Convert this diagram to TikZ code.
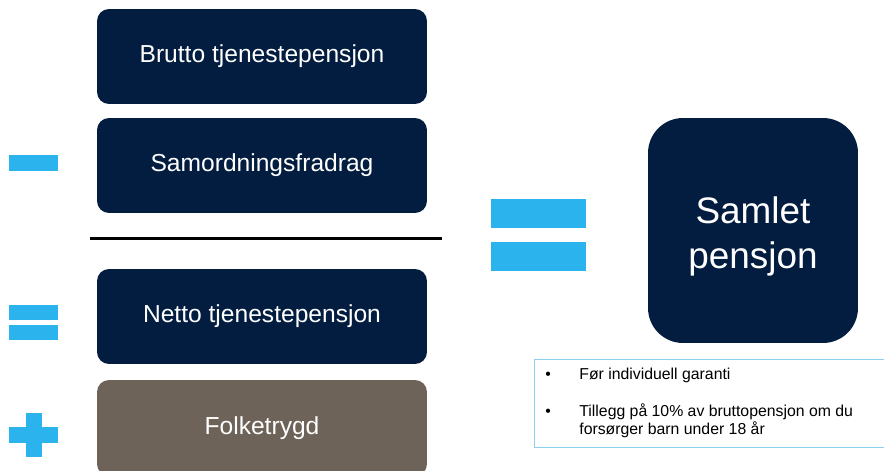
\documentclass[tikz,border=0pt]{standalone}
\usepackage{fontspec}
\setmainfont{Liberation Sans}
\usepackage{array}
\usepackage{xcolor}
\usetikzlibrary{positioning,calc}

\definecolor{navy}{HTML}{021D3F}
\definecolor{taupe}{HTML}{6E6359}
\definecolor{signblue}{HTML}{2BB3EE}
\definecolor{noteblue}{HTML}{8DD0F0}

\begin{document}
\begin{tikzpicture}[
    x=0.02cm, y=-0.02cm,
    box/.style={rectangle, rounded corners=0.24cm, fill=navy, text=white, minimum width=6.6cm, minimum height=1.9cm, inner sep=0pt, align=center, font=\fontsize{14}{17}\selectfont},
    bigbox/.style={rectangle, rounded corners=0.7cm, fill=navy, minimum width=4.2cm, minimum height=4.5cm, inner sep=0pt},
    bigtext/.style={text=white, inner sep=0pt, align=center, font=\fontsize{21}{25.5}\selectfont},
    note/.style={rectangle, draw=noteblue, line width=0.6pt, minimum width=7cm, minimum height=1.76cm, inner sep=0pt},
    notetext/.style={inner sep=0pt, align=left, font=\fontsize{9}{10.2}\selectfont},
    sign/.style={fill=signblue}
]
\useasboundingbox (0,0) rectangle (884,470);

% Left column
\node[box] (brutto) at (262,56.5) {Brutto tjenestepensjon};
\node[box] (samord) at (262,165.5) {Samordningsfradrag};
\node[box] (netto) at (262,316.5) {Netto tjenestepensjon};
\node[box, fill=taupe, minimum height=1.92cm] (folke) at (262,428) {Folketrygd};

% Sum line
\coordinate (lineL) at (90,238.5);
\coordinate (lineR) at (442,238.5);
\draw[line width=1.4pt] (lineL) -- (lineR);

% Signs
\fill[sign] (9,155) rectangle (58,171);
\fill[sign] (9,305) rectangle (58,320);
\fill[sign] (9,325) rectangle (58,340);
\fill[sign] (9,427) rectangle (58,443);
\fill[sign] (26,413) rectangle (42,457);
\fill[sign] (491,199) rectangle (586,228);
\fill[sign] (491,242) rectangle (586,271);

% Result
\node[bigbox] (samlet) at (753,230.5) {};
\node[bigtext] (samlettext) at ([yshift=-3.5pt]samlet.center) {Samlet\\pensjon};

% Note
\node[note, anchor=north west] (notebox) at (534,359) {};
\node[notetext, anchor=base west] (notelist) at (545,379) {%
  \begin{tabular}[t]{@{}p{0.68cm}@{}>{\raggedright\arraybackslash}p{6cm}@{}}
  \textbullet & Før individuell garanti\\[11pt]
  \textbullet & Tillegg på 10\% av bruttopensjon om du forsørger barn under 18 år
  \end{tabular}};

\end{tikzpicture}
\end{document}
